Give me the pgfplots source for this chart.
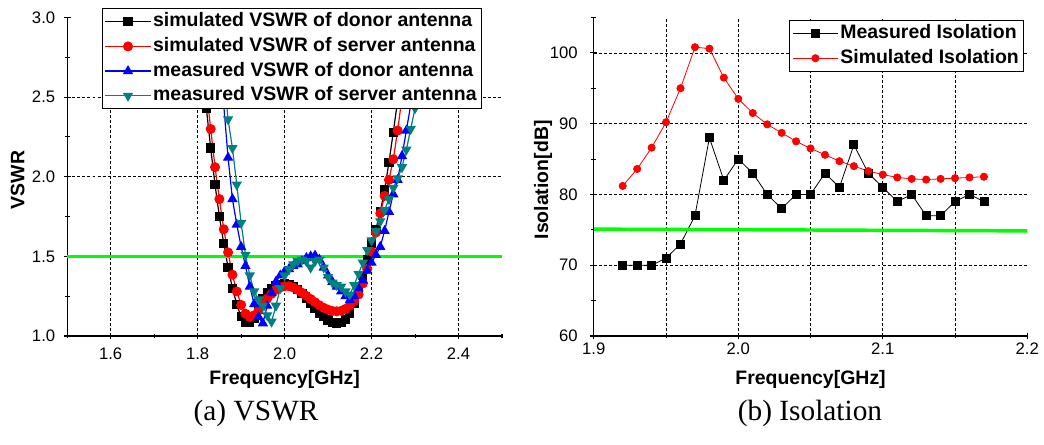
\documentclass[border=0pt]{standalone}
\usepackage{fontspec}
\setmainfont{Liberation Sans}
\newfontfamily\timesfont{Liberation Serif}
\usepackage{pgfplots}
\pgfplotsset{compat=1.18}
\definecolor{tealc}{RGB}{0,128,128}
\definecolor{greenl}{RGB}{0,255,0}
\pgfplotsset{
 myaxis/.style={
  scale only axis, anchor=south west,
  axis x line*=bottom, axis y line*=left,
  axis line style={-, line width=0.9pt},
  tick align=center, major tick length=5pt, minor tick length=3.5pt,
  tick style={black, line width=0.8pt},
  tick label style={font=\fontsize{12.5}{14}\selectfont},
  label style={font=\fontsize{14.6}{16}\selectfont\bfseries},
  grid style={black, line width=0.5pt, dash pattern=on 2.2pt off 1.6pt},
  legend style={font=\fontsize{14.6}{16}\selectfont\bfseries, draw=black, line width=0.8pt,
     inner xsep=2pt, inner ysep=0.5pt, row sep=0pt, anchor=north west,
     nodes={inner sep=1.5pt, text height=11.5pt, text depth=4pt}},
  legend cell align=left,
  legend image code/.code={\draw[mark repeat=2,mark phase=2,##1] plot coordinates {(0pt,0pt) (16.9pt,0pt) (33.8pt,0pt)};},
 }
}
\begin{document}
\begin{tikzpicture}
\useasboundingbox (0,0) rectangle (783pt,333pt);
% ---------------- (a) VSWR
\begin{axis}[myaxis, at={(50.4pt,81pt)}, width=326.1pt, height=238.9pt,
  xmin=1.5, xmax=2.5, ymin=1, ymax=3,
  xtick={1.6,1.8,2.0,2.2,2.4}, xticklabels={1.6,1.8,2.0,2.2,2.4},
  minor xtick={1.5,1.7,1.9,2.1,2.3,2.5},
  ytick={1,1.5,2,2.5,3}, yticklabels={1.0,1.5,2.0,2.5,3.0},
  minor ytick={1.25,1.75,2.25,2.75},
  xmajorgrids,
  extra y ticks={1.5,2,2.5}, extra y tick labels={},
  extra y tick style={grid=major, major tick length=0pt},
  xticklabel style={yshift=-3pt}, yticklabel style={xshift=-3pt},
  xlabel={Frequency[GHz]}, ylabel={VSWR},
  xlabel style={at={(axis description cs:0.5,-0.135)}, anchor=center},
  ylabel style={at={(axis description cs:-0.114,0.49)}, anchor=center},
  legend style={at={(axis description cs:0.0793,1.029)}},
]
\addplot[black, line width=0.9pt, mark=square*, mark size=3pt] coordinates {
(1.79,3.35) (1.80,3.05) (1.81,2.74) (1.82,2.43) (1.83,2.18) (1.84,1.95) (1.85,1.75)
(1.86,1.58) (1.87,1.43) (1.88,1.30) (1.89,1.20) (1.90,1.12) (1.91,1.085) (1.92,1.085)
(1.93,1.11) (1.94,1.17) (1.95,1.235) (1.96,1.27) (1.97,1.295) (1.98,1.315) (1.99,1.325)
(2.00,1.33) (2.01,1.325) (2.02,1.31) (2.03,1.29) (2.04,1.265) (2.05,1.235) (2.06,1.205)
(2.07,1.175) (2.08,1.145) (2.09,1.12) (2.10,1.10) (2.11,1.087) (2.12,1.082) (2.13,1.087)
(2.14,1.105) (2.15,1.145) (2.16,1.205) (2.17,1.28) (2.18,1.38) (2.19,1.48) (2.20,1.58)
(2.21,1.67) (2.22,1.78) (2.23,1.92) (2.24,2.09) (2.25,2.28) (2.26,2.48) (2.27,2.68)
(2.28,2.88) (2.29,3.08)};
\addlegendentry{simulated VSWR of donor antenna}
\addplot[red, line width=0.9pt, mark=*, mark size=3.3pt] coordinates {
(1.80,3.1) (1.81,2.82) (1.82,2.55) (1.83,2.30) (1.84,2.06) (1.85,1.86) (1.86,1.67)
(1.87,1.525) (1.88,1.385) (1.89,1.28) (1.90,1.195) (1.91,1.14) (1.92,1.12) (1.93,1.13)
(1.94,1.16) (1.95,1.20) (1.96,1.235) (1.97,1.265) (1.98,1.29) (1.99,1.305) (2.00,1.313)
(2.01,1.313) (2.02,1.305) (2.03,1.29) (2.04,1.272) (2.05,1.252) (2.06,1.232) (2.07,1.212)
(2.08,1.193) (2.09,1.177) (2.10,1.165) (2.11,1.157) (2.12,1.155) (2.13,1.158) (2.14,1.17)
(2.15,1.19) (2.16,1.22) (2.17,1.26) (2.18,1.33) (2.19,1.42) (2.20,1.53) (2.21,1.65)
(2.22,1.77) (2.23,1.88) (2.24,1.98) (2.25,2.11) (2.26,2.29) (2.27,2.50) (2.28,2.72)
(2.29,2.95) (2.30,3.2)};
\addlegendentry{simulated VSWR of server antenna}
\addplot[blue, line width=0.9pt, mark=triangle*, mark size=3.6pt] coordinates {
(1.84,3.1) (1.85,2.78) (1.86,2.45) (1.87,2.12) (1.88,1.86) (1.89,1.70) (1.90,1.56)
(1.91,1.44) (1.92,1.31) (1.93,1.20) (1.94,1.12) (1.95,1.08) (1.96,1.19) (1.97,1.27)
(1.98,1.34) (1.99,1.38) (2.00,1.405) (2.01,1.42) (2.02,1.44) (2.03,1.45) (2.04,1.47)
(2.05,1.49) (2.06,1.50) (2.07,1.505) (2.08,1.48) (2.09,1.43) (2.10,1.38) (2.11,1.34)
(2.12,1.31) (2.13,1.28) (2.14,1.25) (2.15,1.225) (2.16,1.25) (2.17,1.30) (2.18,1.35)
(2.19,1.41) (2.20,1.46) (2.21,1.51) (2.22,1.56) (2.23,1.66) (2.24,1.78) (2.25,1.89)
(2.26,1.98) (2.27,2.13) (2.28,2.29) (2.29,2.45) (2.30,2.62) (2.31,2.80) (2.32,3.0)};
\addlegendentry{measured VSWR of donor antenna}
\addplot[tealc, line width=0.9pt, mark=triangle*, mark size=3.6pt, mark options={rotate=180}] coordinates {
(1.85,2.95) (1.86,2.65) (1.87,2.36) (1.88,2.18) (1.89,1.95) (1.90,1.71) (1.91,1.51)
(1.92,1.38) (1.93,1.28) (1.94,1.23) (1.95,1.19) (1.96,1.13) (1.97,1.09) (1.98,1.19)
(1.99,1.30) (2.00,1.38) (2.01,1.42) (2.02,1.45) (2.03,1.47) (2.04,1.48) (2.05,1.47)
(2.06,1.43) (2.07,1.47) (2.08,1.48) (2.09,1.43) (2.10,1.37) (2.11,1.335) (2.12,1.32)
(2.13,1.31) (2.14,1.28) (2.15,1.26) (2.16,1.32) (2.17,1.39) (2.18,1.46) (2.19,1.54)
(2.20,1.60) (2.21,1.66) (2.22,1.72) (2.23,1.79) (2.24,1.86) (2.25,1.93) (2.26,1.99)
(2.27,2.06) (2.28,2.17) (2.29,2.30) (2.30,2.43) (2.31,2.58) (2.32,2.75)};
\addlegendentry{measured VSWR of server antenna}
\addplot[greenl, line width=2.6pt, forget plot] coordinates {(1.5,1.5) (2.5,1.5)};
\end{axis}
% ---------------- (b) Isolation
\begin{axis}[myaxis, at={(445.35pt,81pt)}, width=325.1pt, height=238.9pt,
  xmin=1.9, xmax=2.2, ymin=60, ymax=105,
  xtick={1.9,2.0,2.1,2.2}, xticklabels={1.9,2.0,2.1,2.2},
  minor xtick={1.95,2.05,2.15},
  ytick={60,70,80,90,100}, yticklabels={60,70,80,90,100},
  minor ytick={65,75,85,95,105},
  extra x ticks={1.95,2.0,2.05,2.1,2.15}, extra x tick labels={},
  extra y ticks={70,80,90,100}, extra y tick labels={},
  extra tick style={grid=major, major tick length=0pt},
  xticklabel style={yshift=1pt}, yticklabel style={xshift=-6pt},
  xlabel={Frequency[GHz]}, ylabel={Isolation[dB]},
  xlabel style={at={(axis description cs:0.5,-0.135)}, anchor=center},
  ylabel style={at={(axis description cs:-0.117,0.49)}, anchor=center},
  legend style={at={(axis description cs:0.451,0.992)}},
]
\addplot[black, line width=0.6pt, mark=square*, mark size=3pt] coordinates {
(1.92,70) (1.93,70) (1.94,70) (1.95,71) (1.96,73) (1.97,77) (1.98,88) (1.99,82)
(2.00,85) (2.01,83) (2.02,80) (2.03,78) (2.04,80) (2.05,80) (2.06,83) (2.07,81)
(2.08,87) (2.09,83) (2.10,81) (2.11,79) (2.12,80) (2.13,77) (2.14,77) (2.15,79)
(2.16,80) (2.17,79)};
\addlegendentry{Measured Isolation}
\addplot[red, line width=0.6pt, mark=*, mark size=2.7pt] coordinates {
(1.92,81.2) (1.93,83.6) (1.94,86.6) (1.95,90.2) (1.96,95.0) (1.97,100.8) (1.98,100.6)
(1.99,96.5) (2.00,93.5) (2.01,91.5) (2.02,89.9) (2.03,88.7) (2.04,87.5) (2.05,86.5)
(2.06,85.6) (2.07,84.7) (2.08,84.0) (2.09,83.3) (2.10,82.8) (2.11,82.4) (2.12,82.2)
(2.13,82.1) (2.14,82.2) (2.15,82.3) (2.16,82.4) (2.17,82.5)};
\addlegendentry{Simulated Isolation}
\addplot[greenl, line width=2.6pt, forget plot] coordinates {(1.9,75.1) (2.2,74.85)};
\end{axis}
\node[font=\timesfont\fontsize{22}{24}\selectfont] at (192pt,23.25pt) {(a) VSWR};
\node[font=\timesfont\fontsize{22}{24}\selectfont] at (607.5pt,23.25pt) {(b) Isolation};
\end{tikzpicture}
\end{document}
